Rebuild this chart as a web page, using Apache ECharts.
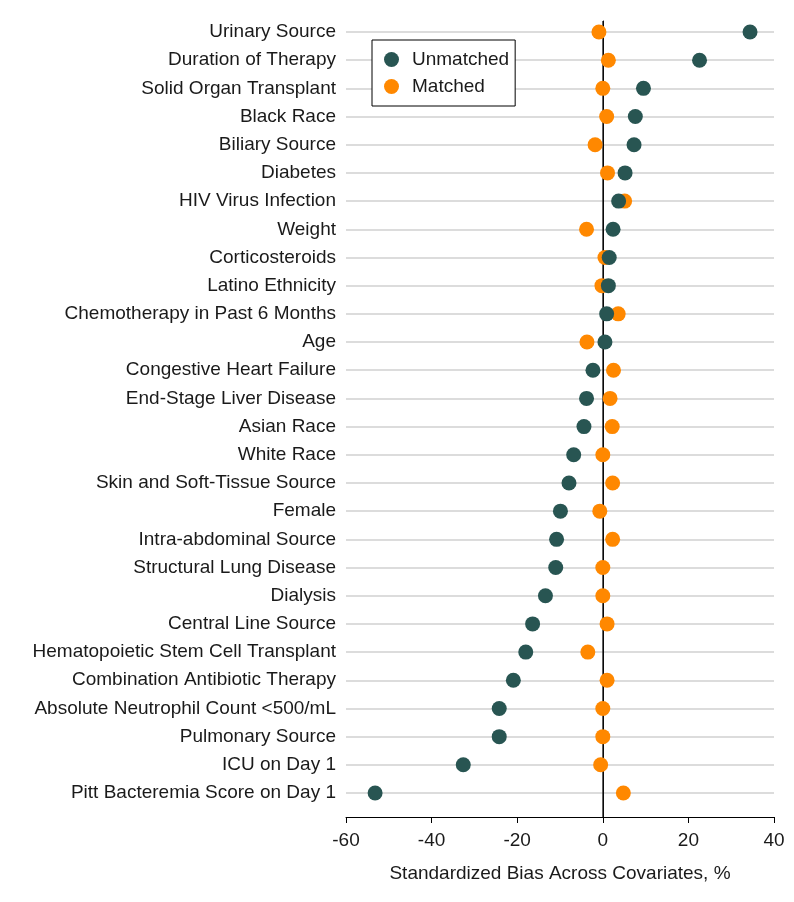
<!DOCTYPE html>
<html>
<head>
<meta charset="utf-8">
<script src="https://cdn.jsdelivr.net/npm/echarts@6/dist/echarts.min.js"></script>
<style>
html,body{margin:0;padding:0;background:#fff;}
#chart{width:794px;height:902px;}
</style>
</head>
<body>
<div id="chart"></div>
<script>
const categories = [
  'Urinary Source','Duration of Therapy','Solid Organ Transplant','Black Race','Biliary Source',
  'Diabetes','HIV Virus Infection','Weight','Corticosteroids','Latino Ethnicity',
  'Chemotherapy in Past 6 Months','Age','Congestive Heart Failure','End-Stage Liver Disease','Asian Race',
  'White Race','Skin and Soft-Tissue Source','Female','Intra-abdominal Source','Structural Lung Disease',
  'Dialysis','Central Line Source','Hematopoietic Stem Cell Transplant','Combination Antibiotic Therapy',
  'Absolute Neutrophil Count <500/mL','Pulmonary Source','ICU on Day 1','Pitt Bacteremia Score on Day 1'
];
const unmatched = [34.4,22.6,9.5,7.6,7.3,5.2,3.7,2.4,1.5,1.3,0.9,0.5,-2.3,-3.8,-4.4,-6.8,-7.9,-9.9,-10.8,-11.0,-13.4,-16.4,-18.0,-20.9,-24.2,-24.2,-32.6,-53.2];
const matched = [-0.9,1.3,0.0,0.9,-1.8,1.1,5.1,-3.8,0.5,-0.2,3.6,-3.7,2.5,1.7,2.2,0.0,2.3,-0.7,2.3,0.0,0.0,1.0,-3.5,1.0,0.0,0.0,-0.5,4.8];
const xTicks = {min:-60, max:40, interval:20};
const referenceX = 0;

const FONT = 'Liberation Sans';
const TXT = '#1a1a1a';
const chart = echarts.init(document.getElementById('chart'), null, {renderer:'canvas'});
chart.setOption({
  animation:false,
  backgroundColor:'#fff',
  textStyle:{fontFamily:FONT},
  grid:[
    {left:346, right:20, top:32, height:761},
    {left:346, right:20, top:21, bottom:85}
  ],
  legend:{
    data:['Unmatched','Matched'],
    orient:'vertical',
    left:372, top:40,
    padding:[10,6,10,12],
    itemGap:8,
    itemWidth:15, itemHeight:15,
    icon:'circle',
    borderColor:'#000', borderWidth:1,
    backgroundColor:'#fff',
    textStyle:{fontSize:19, color:TXT, fontFamily:FONT, padding:[0,0,0,8]}
  },
  xAxis:[
    {gridIndex:0, type:'value', min:xTicks.min, max:xTicks.max, interval:xTicks.interval, show:false},
    {gridIndex:1, type:'value', min:xTicks.min, max:xTicks.max, interval:xTicks.interval,
     axisLine:{show:true, lineStyle:{color:'#000', width:1}},
     axisTick:{show:true, length:6, lineStyle:{color:'#000'}},
     axisLabel:{fontSize:19, color:TXT, margin:14, fontFamily:FONT},
     splitLine:{show:false},
     name:'Standardized Bias Across Covariates, %',
     nameLocation:'middle', nameGap:47,
     nameTextStyle:{fontSize:19, color:TXT, fontFamily:FONT}}
  ],
  yAxis:[
    {gridIndex:0, type:'category', data:categories, inverse:true, boundaryGap:false,
     axisLine:{show:false}, axisTick:{show:false},
     axisLabel:{fontSize:19, color:TXT, margin:10, interval:0, fontFamily:FONT},
     splitLine:{show:true, interval:0, lineStyle:{color:'#dcdcdc', width:2}}},
    {gridIndex:1, type:'value', min:0, max:1,
     axisLine:{show:true, lineStyle:{color:'#000', width:1}},
     axisTick:{show:false}, axisLabel:{show:false}, splitLine:{show:false}}
  ],
  series:[
    {name:'zero', type:'line', xAxisIndex:1, yAxisIndex:1, data:[[referenceX,0],[referenceX,1]],
     symbol:'none', silent:true, z:1, lineStyle:{color:'#222', width:1}},
    {name:'Unmatched', type:'scatter', xAxisIndex:0, yAxisIndex:0,
     data:unmatched.map((v,i)=>[v, categories[i]]),
     symbolSize:15, z:5, itemStyle:{color:'#285552', opacity:1}},
    {name:'Matched', type:'scatter', xAxisIndex:0, yAxisIndex:0,
     data:matched.map((v,i)=>[v, categories[i]]),
     symbolSize:15, z:4, itemStyle:{color:'#ff8800', opacity:1}}
  ]
});
</script>
</body>
</html>
